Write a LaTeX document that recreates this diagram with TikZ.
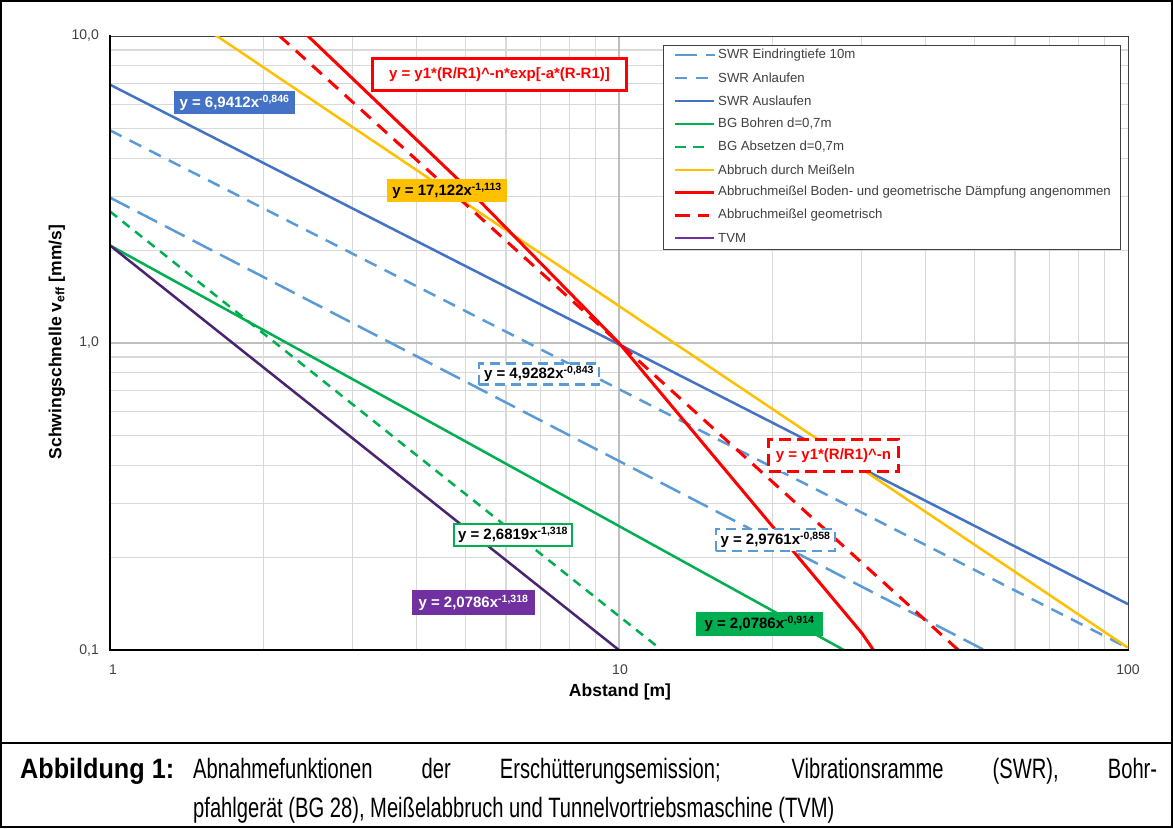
\documentclass[tikz,border=0pt]{standalone}
\usepackage{fontspec}
\setmainfont{Liberation Sans}
\newfontfamily\capfont[FakeStretch=0.72]{Liberation Sans}
\newfontfamily\capbfont[FakeStretch=0.90]{Liberation Sans Bold}
\definecolor{swrA}{HTML}{4472C4}
\definecolor{swrL}{HTML}{5B9BD5}
\definecolor{bgG}{HTML}{00B050}
\definecolor{meiY}{HTML}{FFC000}
\definecolor{redR}{HTML}{FF0000}
\definecolor{tvmP}{HTML}{7030A0}
\definecolor{tvmL}{HTML}{4A2470}
\definecolor{gridC}{HTML}{D9D9D9}
\definecolor{gridM}{HTML}{BFBFBF}
\definecolor{txtC}{HTML}{404040}
\begin{document}
\begin{tikzpicture}[x=1pt,y=-1pt,
  declare function={lx(\r)=110+509*log10(\r); ly(\v)=343-307*log10(\v);
    pl(\a,\b,\r)=343-307*(log10(\a)-\b*log10(\r));
    rs(\r)=343-307*(-1.5*log10(\r/10)-0.011465*(\r-10));},
  cEin/.style={swrL,line width=2.5pt,dash pattern=on 22pt off 9pt},
  cAn/.style={swrL,line width=2.5pt,dash pattern=on 13pt off 9pt},
  cAus/.style={swrA,line width=2.5pt},
  cBohr/.style={bgG,line width=2.5pt},
  cAbs/.style={bgG,line width=2.5pt,dash pattern=on 9pt off 7pt},
  cMei/.style={meiY,line width=2.5pt},
  cRed/.style={redR,line width=3pt},
  cRedD/.style={redR,line width=3pt,dash pattern=on 13pt off 9pt},
  cTvm/.style={tvmL,line width=2.5pt},
  eqlab/.style={font=\bfseries\fontsize{15}{18}\selectfont,inner sep=0pt,minimum height=23pt,align=center},
  legtxt/.style={anchor=west,inner sep=0pt,font=\fontsize{13.2}{16}\selectfont,text=txtC},
  ticktxt/.style={inner sep=0pt,font=\fontsize{14}{16}\selectfont,text=txtC},
  axtitle/.style={inner sep=0pt,font=\bfseries\fontsize{17.5}{20}\selectfont,text=black},
  captxt/.style={anchor=base west,inner sep=0pt,font=\capfont\fontsize{28}{32}\selectfont}
]
\useasboundingbox (0,0) rectangle (1173,828);
\fill[white] (0,0) rectangle (1173,828);
% grid
\foreach \d in {1,10}{\foreach \k in {2,...,9}{
  \draw[gridC,line width=1.2pt] ({lx(\d*\k)},36) -- ({lx(\d*\k)},650);}}
\foreach \d in {0.1,1}{\foreach \k in {2,...,9}{
  \draw[gridC,line width=1.2pt] (110,{ly(\d*\k)}) -- (1128,{ly(\d*\k)});}}
\draw[gridM,line width=2pt] ({lx(10)},36) -- ({lx(10)},650);
\draw[gridM,line width=2pt] (110,{ly(1)}) -- (1128,{ly(1)});
\draw[txtC,line width=1pt] (110,36) -- (1128,36) -- (1128,650);
% curves
\begin{scope}
\clip (110,36) rectangle (1128,650);
\draw[cEin] ({lx(1)},{pl(2.9761,0.858,1)}) -- ({lx(100)},{pl(2.9761,0.858,100)});
\draw[cAn] ({lx(1)},{pl(4.9282,0.843,1)}) -- ({lx(100)},{pl(4.9282,0.843,100)});
\draw[cAus] ({lx(1)},{pl(6.9412,0.846,1)}) -- ({lx(100)},{pl(6.9412,0.846,100)});
\draw[cBohr] ({lx(1)},{pl(2.0786,0.914,1)}) -- ({lx(100)},{pl(2.0786,0.914,100)});
\draw[cAbs] ({lx(1)},{pl(2.6819,1.318,1)}) -- ({lx(30)},{pl(2.6819,1.318,30)});
\draw[cMei] ({lx(1)},{pl(17.122,1.113,1)}) -- ({lx(100)},{pl(17.122,1.113,100)});
\draw[cRed] ({lx(2)},{rs(2)}) -- ({lx(5)},{rs(5)}) -- ({lx(10)},{rs(10)}) -- ({lx(30)},{rs(30)}) -- ({lx(40)},{rs(40)});
\draw[cRedD] ({lx(2)},{pl(31.623,1.5,2)}) -- ({lx(100)},{pl(31.623,1.5,100)});
\draw[cTvm] ({lx(1)},{pl(2.0786,1.318,1)}) -- ({lx(30)},{pl(2.0786,1.318,30)});
\end{scope}
% axes
\draw[black,line width=2pt] (110,35) -- (110,651);
\draw[black,line width=2pt] (109,650) -- (1129,650);
% tick labels
\node[ticktxt,anchor=east] (t10) at (99,36) {10,0};
\node[ticktxt,anchor=east] (t1) at (99,343) {1,0};
\node[ticktxt,anchor=east] (t01) at (99,650) {0,1};
\node[ticktxt] (x1) at (113,670) {1};
\node[ticktxt] (x10) at (620,670) {10};
\node[ticktxt] (x100) at (1128,670) {100};
\node[axtitle] (xt) at (620,692) {Abstand [m]};
\node[axtitle,rotate=90] (yt) at (57,342) {Schwingschnelle v\textsubscript{eff} [mm/s]};
% equation labels
\node[eqlab,fill=swrA,text=white,minimum width=121pt] (e1) at (234.5,102.5) {y = 6,9412x\textsuperscript{-0,846}};
\node[eqlab,fill=meiY,text=black,minimum width=120pt] (e2) at (447,190.5) {y = 17,122x\textsuperscript{-1,113}};
\node[eqlab,fill=white,draw=redR,line width=3pt,text=redR,minimum width=254pt,minimum height=32pt] (e3) at (499.5,74.5) {y = y1*(R/R1)\^{}-n*exp[-a*(R-R1)]};
\node[eqlab,fill=white,draw=swrL,line width=2.5pt,dash pattern=on 10pt off 6pt,text=black,minimum width=120pt,minimum height=21pt] (e4) at (539,374) {y = 4,9282x\textsuperscript{-0,843}};
\node[eqlab,fill=white,draw=redR,line width=3pt,dash pattern=on 12pt off 6pt,text=redR,minimum width=130pt,minimum height=32pt] (e5) at (833.5,455.5) {y = y1*(R/R1)\^{}-n};
\node[eqlab,fill=white,draw=swrL,line width=2.5pt,dash pattern=on 10pt off 6pt,text=black,minimum width=119pt,minimum height=22pt] (e6) at (775.5,540) {y = 2,9761x\textsuperscript{-0,858}};
\node[eqlab,fill=white,draw=bgG,line width=2.5pt,text=black,minimum width=118pt,minimum height=22pt] (e7) at (513,535) {y = 2,6819x\textsuperscript{-1,318}};
\node[eqlab,fill=tvmP,text=white,minimum width=123pt,minimum height=25pt] (e8) at (473.5,602.5) {y = 2,0786x\textsuperscript{-1,318}};
\node[eqlab,fill=bgG,text=black,minimum width=127pt,minimum height=24pt] (e9) at (759.5,624) {y = 2,0786x\textsuperscript{-0,914}};
% legend
\draw[txtC,fill=white,line width=1pt] (663,45) rectangle (1120,249);
\draw[cEin] (675,55) -- (715,55);
\node[legtxt] (l1) at (718,55) {SWR Eindringtiefe 10m};
\draw[cAn,dash pattern=on 12pt off 9pt] (675,78) -- (713,78);
\node[legtxt] (l2) at (718,78) {SWR Anlaufen};
\draw[cAus] (675,101) -- (714,101);
\node[legtxt] (l3) at (718,101) {SWR Auslaufen};
\draw[cBohr] (675,124) -- (714,124);
\node[legtxt] (l4) at (718,124) {BG Bohren d=0,7m};
\draw[cAbs,dash pattern=on 11pt off 7pt] (675,147) -- (705,147);
\node[legtxt] (l5) at (718,147) {BG Absetzen d=0,7m};
\draw[cMei] (675,170) -- (714,170);
\node[legtxt] (l6) at (718,170) {Abbruch durch Meißeln};
\draw[cRed] (675,192) -- (714,192);
\node[legtxt] (l7) at (718,192) {Abbruchmeißel Boden- und geometrische Dämpfung angenommen};
\draw[cRedD,dash pattern=on 15pt off 8pt] (675,215) -- (709,215);
\node[legtxt] (l8) at (718,215) {Abbruchmeißel geometrisch};
\draw[cTvm,tvmP] (675,238) -- (714,238);
\node[legtxt] (l9) at (718,238) {TVM};
% frame and caption
\draw[black,line width=2.5pt] (0,743) -- (1173,743);
\draw[black,line width=2pt] (1,1) rectangle (1172,827);
\node[captxt,font=\capbfont\fontsize{28}{32}\selectfont] (cl) at (20,778) {Abbildung 1:};
\node[captxt] (c1) at (193,778) {\makebox[964pt][s]{Abnahmefunktionen der Erschütterungsemission; Vibrationsramme (SWR), Bohr-}};
\node[captxt] (c2) at (193,817) {pfahlgerät (BG 28), Meißelabbruch und Tunnelvortriebsmaschine (TVM)};
\end{tikzpicture}
\end{document}
